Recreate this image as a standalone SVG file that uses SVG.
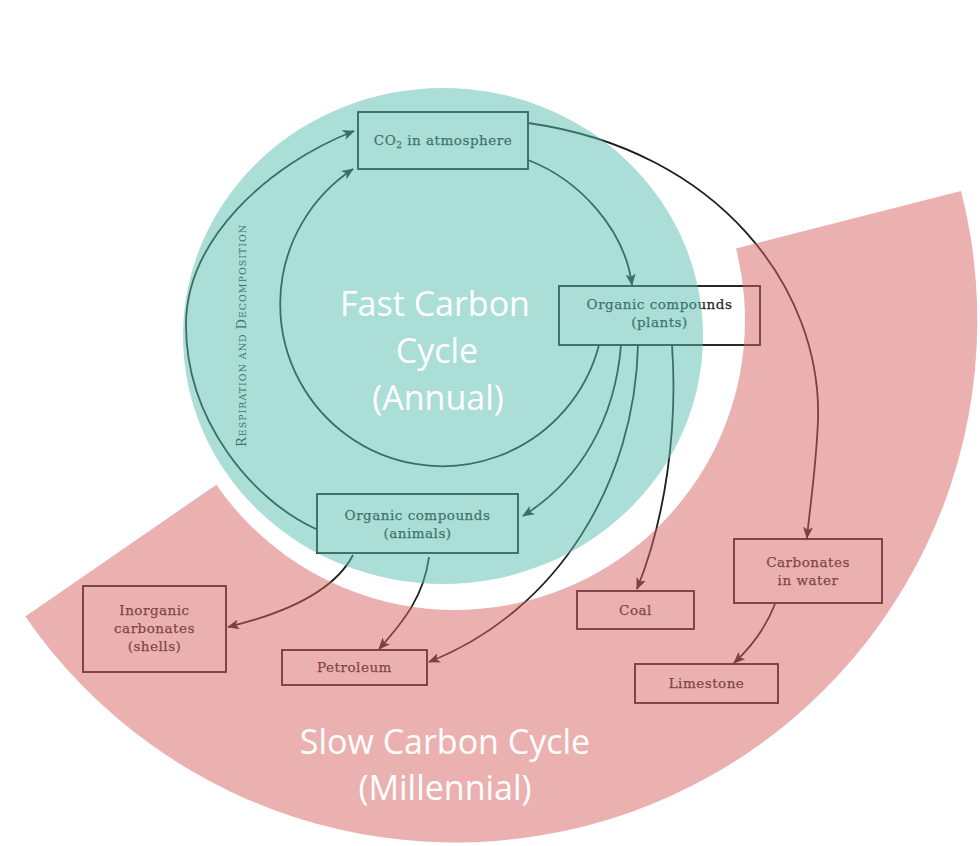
<svg xmlns="http://www.w3.org/2000/svg" width="980" height="846" viewBox="0 0 980 846">
<style>
.box{fill:none;stroke:#1e1e1e;stroke-width:1.9}
.lbl{font-family:"DejaVu Serif","Liberation Serif",serif;font-size:13.5px;letter-spacing:0.5px;fill:#262626;stroke:#262626;stroke-width:0.25;text-anchor:middle}
.con{fill:none;stroke:#1e1e1e;stroke-width:1.8;marker-end:url(#ah)}
.title{font-family:"Open Sans","Noto Sans",sans-serif;font-size:34px;fill:#fff;text-anchor:middle}
</style>
<defs>
<marker id="ah" viewBox="0 0 12 10" refX="11" refY="5" markerWidth="12" markerHeight="10" markerUnits="userSpaceOnUse" orient="auto">
<path d="M0,0 L12,5 L0,10 L3,5 Z" fill="#1e1e1e"/>
</marker>
</defs>
<rect width="980" height="846" fill="#fff"/>
<g id="connectors">
<path class="con" d="M316,529 C252,500 186,420 186,325 C186,240 267,165 354,131"/>
<path class="con" d="M599,345 A162,162 0 1 1 353,169"/>
<path class="con" d="M528,160 C580,180 625,230 632,285"/>
<path class="con" d="M528,123 C720,150 822,290 818,420 C816,470 810,505 807,538"/>
<path class="con" d="M621,345 C615,420 580,480 523,516"/>
<path class="con" d="M638,345 C635,480 560,610 429,662"/>
<path class="con" d="M672,345 C678,430 665,520 637,589"/>
<path class="con" d="M353,555 C335,590 290,612 228,627"/>
<path class="con" d="M429,557 C424,595 405,620 379,649"/>
<path class="con" d="M775,604 C765,630 750,648 734,663"/>
<text id="resp-label" transform="translate(246,336) rotate(-90)" text-anchor="middle" font-family="'DejaVu Serif','Liberation Serif',serif" fill="#262626" textLength="222" lengthAdjust="spacing"><tspan font-size="13">R</tspan><tspan font-size="9.5">ESPIRATION AND </tspan><tspan font-size="13">D</tspan><tspan font-size="9.5">ECOMPOSITION</tspan></text>
</g>
<g id="co2">
<rect class="box" x="358" y="112" width="170" height="57"/>
<text class="lbl" x="443" y="145">CO<tspan font-size="9" dy="3">2</tspan><tspan dy="-3"> in atmosphere</tspan></text>
</g>
<g id="plants">
<rect class="box" x="559" y="286" width="201" height="59"/>
<text class="lbl" x="659.5" y="309">Organic compounds</text>
<text class="lbl" x="659.5" y="327">(plants)</text>
</g>
<g id="animals">
<rect class="box" x="317" y="494" width="201" height="59"/>
<text class="lbl" x="417.5" y="520">Organic compounds</text>
<text class="lbl" x="417.5" y="538">(animals)</text>
</g>
<g id="inorganic">
<rect class="box" x="83" y="586" width="143" height="86"/>
<text class="lbl" x="154.5" y="615">Inorganic</text>
<text class="lbl" x="154.5" y="633">carbonates</text>
<text class="lbl" x="154.5" y="651">(shells)</text>
</g>
<g id="petroleum">
<rect class="box" x="282" y="650" width="145" height="35"/>
<text class="lbl" x="354.5" y="672">Petroleum</text>
</g>
<g id="coal">
<rect class="box" x="577" y="591" width="117" height="38"/>
<text class="lbl" x="635.5" y="614.5">Coal</text>
</g>
<g id="carbonates">
<rect class="box" x="734" y="539" width="148" height="64"/>
<text class="lbl" x="808" y="567">Carbonates</text>
<text class="lbl" x="808" y="585">in water</text>
</g>
<g id="limestone">
<rect class="box" x="635" y="664" width="143" height="39"/>
<text class="lbl" x="706.5" y="688">Limestone</text>
</g>
<g id="regions">
<path id="slow-region" d="M961,191 A522,522 0 0 1 25.3,616.4 L216.3,484.7 A290,290 0 0 0 736,248.4 Z" fill="#D76363" fill-opacity="0.5"/>
<ellipse id="fast-region" cx="443" cy="336" rx="260" ry="248" fill="#58BEB0" fill-opacity="0.5"/>
</g>
<g id="titles">
<text class="title" x="435" y="316">Fast Carbon</text>
<text class="title" x="437" y="363">Cycle</text>
<text class="title" x="438" y="410">(Annual)</text>
<text class="title" x="445" y="754">Slow Carbon Cycle</text>
<text class="title" x="445" y="800">(Millennial)</text>
</g>
</svg>
